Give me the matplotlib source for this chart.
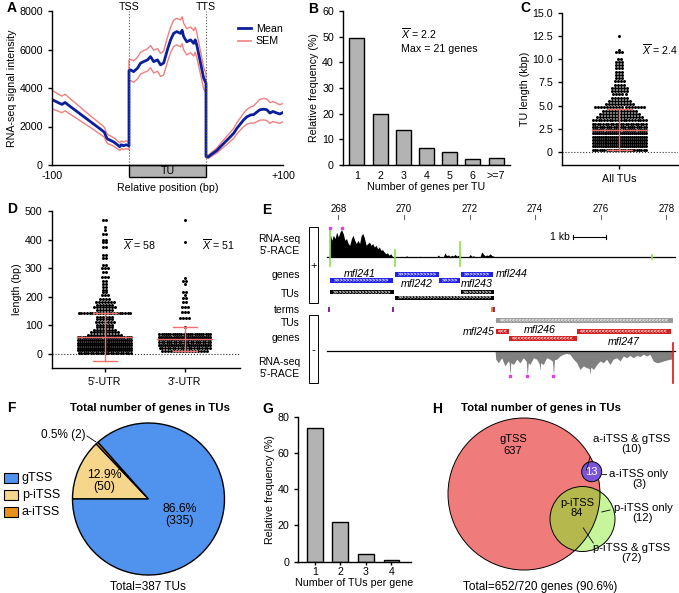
import numpy as np
import matplotlib
matplotlib.use('Agg')
import matplotlib.pyplot as plt
from matplotlib.patches import Rectangle, Circle
from matplotlib.lines import Line2D

# ---------------- data ----------------
# A: metagene profile (upstream -100 bp, TU scaled, downstream +100 bp)
x_up = [0, 5, 10, 13, 17, 20, 25, 30, 35, 40, 45, 50, 55, 60, 65, 68, 70, 72, 75, 80, 85, 88, 90, 93, 96, 100]
mean_up = [3400, 3300, 3200, 3150, 3250, 3150, 3000, 2850, 2700, 2550, 2400, 2250, 2100, 1950, 1800, 1700,
           1500, 1350, 1300, 1200, 1050, 950, 1050, 1000, 1050, 1000]
sem_up = [480, 460, 440, 430, 430, 420, 400, 380, 360, 340, 320, 300, 290, 280, 270, 260, 250, 240, 230,
          220, 210, 200, 200, 200, 200, 200]
x_tu = [100, 102, 106, 111, 115, 119, 124, 128, 132, 137, 141, 145, 150, 154, 158, 162, 167, 169, 171, 175,
        180, 184, 186, 188, 193, 197, 200]
mean_tu = [4900, 4940, 4850, 5030, 5290, 5370, 5460, 5630, 5370, 5460, 5200, 5300, 6000, 6500, 6840, 6930,
           6840, 7000, 6670, 6400, 6500, 6320, 6500, 6240, 5290, 4510, 4250]
sem_tu = [550, 550, 560, 560, 570, 570, 580, 580, 590, 590, 600, 620, 640, 660, 680, 690, 700, 700, 690,
          680, 670, 660, 650, 640, 600, 560, 500]
x_dn = [200, 203, 207, 214, 220, 225, 230, 236, 240, 245, 249, 253, 258, 262, 266, 270, 275, 279, 283, 287,
        292, 296, 300]
mean_dn = [450, 420, 550, 750, 1000, 1200, 1400, 1650, 1900, 2150, 2350, 2500, 2600, 2620, 2750, 2870, 2900,
           2870, 2700, 2780, 2700, 2650, 2730]
sem_dn = [80, 80, 100, 130, 170, 200, 230, 260, 290, 320, 350, 380, 420, 450, 500, 540, 560, 560, 540, 520,
          500, 480, 470]

# B: genes per TU
b_cats = ['1', '2', '3', '4', '5', '6', '>=7']
b_vals = [49.6, 19.8, 13.7, 6.6, 4.9, 2.4, 2.6]

# C: TU length swarm (kbp row -> number of TUs)
c_levels = [0.25, 0.6, 0.95, 1.3, 1.65, 2.0, 2.35, 2.7, 3.05, 3.4, 3.75, 4.1, 4.45, 4.8, 5.15, 5.5, 5.85,
            6.2, 6.55, 6.9, 7.25, 7.6, 7.95, 8.3, 8.65, 9.0, 9.35, 9.7, 10.05, 10.75, 11.0, 12.5]
c_counts = [24, 28, 28, 28, 28, 28, 26, 24, 22, 20, 16, 14, 12, 17, 10, 8, 6, 5, 6, 6, 4, 4, 3, 3, 3, 3,
            3, 3, 2, 3, 1, 1]
c_mean, c_sd_lo, c_sd_hi = 2.4, 0.2, 4.6

# D: UTR lengths (bp row -> count)
d5_levels = [3, 12, 21, 30, 39, 48, 57, 66, 75, 84, 93, 102, 111, 120, 129, 142, 152, 162, 172, 182, 192,
             205, 215, 225, 235, 245, 255, 270, 285, 300, 310, 335, 345, 375, 390, 400, 420, 435, 445, 470]
d5_counts = [22, 28, 28, 28, 28, 28, 26, 12, 10, 8, 6, 6, 7, 6, 6, 20, 6, 8, 6, 7, 4, 3, 2, 2, 2, 2, 2,
             3, 2, 3, 2, 2, 2, 2, 2, 2, 2, 1, 1, 2]
d3_levels = [10, 20, 30, 40, 50, 60, 70, 95, 125, 145, 165, 180, 195, 205, 215, 245, 255, 265, 390, 470]
d3_counts = [16, 20, 28, 22, 28, 26, 24, 1, 4, 3, 3, 2, 2, 1, 2, 1, 2, 1, 1, 1]
d_means = [58, 51]
d_sd = [(-25, 142), (8, 93)]

# E: browser view, coordinates in kb, coverage in % of track height
plus_kb = [267.74, 267.75, 267.8, 267.85, 267.9, 267.95, 268.0, 268.05, 268.1, 268.15, 268.2, 268.25,
           268.3, 268.35, 268.4, 268.45, 268.5, 268.55, 268.6, 268.65, 268.7, 268.75, 268.8, 268.85, 268.9,
           268.95, 269.0, 269.05, 269.1, 269.15, 269.2, 269.25, 269.3, 269.35, 269.4, 269.45, 269.5,
           269.55, 269.6, 269.65, 269.7, 270.05, 270.08, 270.12, 270.45, 270.49, 270.53, 271.0, 271.05,
           271.1, 271.2, 271.25, 271.3, 271.36, 271.41, 271.46, 271.51, 271.56, 271.61, 271.66, 271.72,
           271.97, 272.02, 272.07, 272.12, 272.2, 272.32, 272.37, 272.42, 272.47, 272.52, 272.57, 272.63,
           272.68, 272.73, 272.8]
plus_cov = [0, 80, 57, 74, 63, 85, 68, 85, 93, 80, 57, 63, 46, 40, 63, 74, 57, 46, 57, 46, 74, 80, 63, 40,
            46, 51, 40, 46, 34, 40, 28, 34, 23, 25, 17, 11, 14, 6, 11, 2, 0, 0, 5, 0, 0, 3, 0, 0, 7, 0, 0,
            14, 5, 7, 2, 6, 3, 9, 3, 6, 0, 0, 9, 2, 4, 0, 0, 17, 11, 4, 7, 5, 11, 5, 3, 0]
minus_kb = [272.78, 272.8, 272.88, 272.98, 273.08, 273.18, 273.21, 273.23, 273.26, 273.34, 273.44, 273.54,
            273.64, 273.73, 273.76, 273.79, 273.84, 273.95, 274.05, 274.13, 274.15, 274.17, 274.25, 274.35,
            274.45, 274.53, 274.56, 274.59, 274.66, 274.76, 274.86, 274.96, 275.06, 275.17, 275.27, 275.37,
            275.47, 275.57, 275.65, 275.67, 275.70, 275.78, 275.88, 275.98, 276.08, 276.18, 276.28, 276.38,
            276.49, 276.59, 276.69, 276.79, 276.89, 276.99, 277.10, 277.20, 277.30, 277.40, 277.50, 277.60,
            277.71, 277.81, 277.91, 278.01, 278.11, 278.16, 278.17]
minus_cov = [0, 28, 40, 23, 51, 34, 40, 83, 40, 46, 28, 40, 23, 35, 83, 40, 46, 23, 28, 45, 68, 40, 46, 23,
             28, 35, 83, 30, 28, 17, 11, 8, 11, 28, 40, 63, 51, 57, 60, 80, 55, 63, 46, 34, 40, 28, 46, 28,
             23, 34, 17, 23, 15, 23, 15, 19, 11, 17, 11, 34, 40, 38, 34, 31, 28, 28, 0]
race_plus = [267.75, 269.73, 271.71, 277.55]
plus_genes = [('mfl241', 267.75, 269.66, 1), ('mfl242', 269.73, 271.08, 0),
              ('mfl243', 271.08, 271.71, 1), ('mfl244', 271.74, 272.73, 0)]
plus_tus = [(267.75, 269.70, 0), (271.74, 272.76, 0), (269.73, 272.76, 1)]
terms = [267.72, 269.68, 272.76]
minus_tus = [(272.80, 278.19)]
minus_genes = [('mfl245', 272.80, 273.21, 0), ('mfl246', 273.21, 275.27, 1), ('mfl247', 275.27, 278.13, 0)]

# F: pie
f_labels = ['gTSS', 'p-iTSS', 'a-iTSS']
f_counts = [335, 50, 2]

# G: TUs per gene
g_cats = ['1', '2', '3', '4']
g_vals = [73.6, 22.1, 4.0, 0.7]

# H: venn counts
h_gtss, h_pitss, h_aitss = 637, 84, 13
h_a_and_g, h_a_only, h_p_only, h_p_and_g = 10, 3, 12, 72

# ---------------- style ----------------
plt.rcParams['font.family'] = ['Liberation Sans', 'DejaVu Sans']
plt.rcParams['mathtext.fontset'] = 'custom'
plt.rcParams['mathtext.rm'] = 'Liberation Sans'
plt.rcParams['mathtext.it'] = 'Liberation Sans:italic'
plt.rcParams['font.size'] = 7.7
plt.rcParams['axes.linewidth'] = 1.0
plt.rcParams['xtick.major.width'] = 1.0
plt.rcParams['ytick.major.width'] = 1.0
plt.rcParams['xtick.major.size'] = 3
plt.rcParams['ytick.major.size'] = 3
plt.rcParams['xtick.labelsize'] = 7.7
plt.rcParams['ytick.labelsize'] = 7.7
plt.rcParams['axes.labelsize'] = 7.7

W, H = 679, 593
fig = plt.figure(figsize=(W / 100, H / 100), dpi=100)


def add_ax(l, t, r, b):
    # axes from pixel box (top-left origin)
    return fig.add_axes([l / W, 1 - b / H, (r - l) / W, (b - t) / H])


def ftext(x, y, s, **kw):
    fig.text(x / W, 1 - y / H, s, **kw)


def clean(ax):
    ax.spines['top'].set_visible(False)
    ax.spines['right'].set_visible(False)


def swarm(ax, center, levels, counts, dx, wmax):
    # rows of dots, squeezed when a row gets wider than wmax
    xs, ys = [], []
    for lev, n in zip(levels, counts):
        step = min(dx, wmax / n)
        off = (np.arange(n) - (n - 1) / 2) * step
        xs.extend(center + off)
        ys.extend([lev] * n)
    ax.scatter(xs, ys, s=4.6, color='black', linewidths=0, zorder=2)


red_bar = '#f07070'

# ---------------- A ----------------
ax = add_ax(52, 11, 283, 165)
xa = np.array(x_up + x_tu + x_dn, dtype=float)
ma = np.array(mean_up + mean_tu + mean_dn, dtype=float)
sa = np.array(sem_up + sem_tu + sem_dn, dtype=float)
ax.plot(xa, ma + sa, color='#f08080', lw=1)
ax.plot(xa, ma - sa, color='#f08080', lw=1)
ax.plot(xa, ma, color='#0b1f9a', lw=2)
for xv in (100, 200):
    ax.axvline(xv, color='#555555', ls=':', lw=0.8)
ax.set_xlim(0, 300)
ax.set_ylim(0, 8000)
ax.set_yticks([0, 2000, 4000, 6000, 8000])
ax.set_xticks([0, 300])
ax.set_xticklabels(['-100', '+100'])
ax.tick_params(axis='x', length=0, pad=4)
ax.set_ylabel('RNA-seq signal intensity', labelpad=2)
ax.set_xlabel('Relative position (bp)', labelpad=2)
clean(ax)
ax.add_patch(Rectangle((100, -0.08), 100, 0.08, transform=ax.get_xaxis_transform(), facecolor='#b3b3b3',
                       edgecolor='black', lw=1, clip_on=False))
ax.text(150, -0.04, 'TU', transform=ax.get_xaxis_transform(), ha='center', va='center')
ax.text(100, 1.025, 'TSS', transform=ax.get_xaxis_transform(), ha='center', va='center')
ax.text(200, 1.025, 'TTS', transform=ax.get_xaxis_transform(), ha='center', va='center')
handles = [Line2D([], [], color='#0b1f9a', lw=2), Line2D([], [], color='#f08080', lw=1.2)]
ax.legend(handles, ['Mean', 'SEM'], loc='upper right', bbox_to_anchor=(1.04, 0.98), frameon=False,
          handlelength=1.3, handletextpad=0.4, labelspacing=0.25, fontsize=7.7)

# ---------------- B ----------------
ax = add_ax(343, 11, 510, 165)
ax.bar(np.arange(1, 8), b_vals, width=0.65, color='#b3b3b3', edgecolor='black', lw=1)
ax.set_xlim(0.4, 7.6)
ax.set_ylim(0, 60)
ax.set_yticks(range(0, 61, 10))
ax.set_xticks(np.arange(1, 8))
ax.set_xticklabels(b_cats)
ax.tick_params(axis='x', length=0, pad=4)
ax.set_ylabel('Relative frequency (%)', labelpad=2)
ax.set_xlabel('Number of genes per TU', labelpad=1)
clean(ax)
ftext(401, 34, r'$\overline{X}$ = 2.2', va='center')
ftext(401, 49, 'Max = 21 genes', va='center')

# ---------------- C ----------------
ax = add_ax(562, 12.7, 678, 165)
ax.axhline(0, color='#333333', ls=':', lw=0.8, zorder=1)
swarm(ax, 0, c_levels, c_counts, 0.052, 0.95)
ax.plot([-0.47, 0.47], [c_mean, c_mean], color=red_bar, lw=1, zorder=3)
ax.plot([0, 0], [c_sd_lo, c_sd_hi], color=red_bar, lw=1, zorder=3)
for yv in (c_sd_lo, c_sd_hi):
    ax.plot([-0.22, 0.22], [yv, yv], color=red_bar, lw=1, zorder=3)
ax.set_xlim(-0.98, 1.0)
ax.set_ylim(-1.4, 15)
ax.set_yticks([0, 2.5, 5, 7.5, 10, 12.5, 15])
ax.set_yticklabels(['0', '2.5', '5.0', '7.5', '10.0', '12.5', '15.0'])
ax.set_xticks([0])
ax.set_xticklabels(['All TUs'])
ax.set_ylabel('TU length (kbp)', labelpad=2)
clean(ax)
ftext(660, 50, r'$\overline{X}$ = 2.4', va='center', ha='center')

# ---------------- D ----------------
ax = add_ax(51.7, 211, 240, 368)
ax.axhline(0, color='#333333', ls=':', lw=0.8, zorder=1)
swarm(ax, 0, d5_levels, d5_counts, 0.0375, 0.68)
swarm(ax, 1, d3_levels, d3_counts, 0.0375, 0.66)
for i in range(2):
    ax.plot([i - 0.34, i + 0.34], [d_means[i]] * 2, color=red_bar, lw=1, zorder=3)
    ax.plot([i, i], d_sd[i], color=red_bar, lw=1, zorder=3)
    for yv in d_sd[i]:
        ax.plot([i - 0.15, i + 0.15], [yv, yv], color=red_bar, lw=1, zorder=3)
ax.set_xlim(-0.66, 1.69)
ax.set_ylim(-50, 500)
ax.set_yticks(range(0, 501, 100))
ax.set_xticks([0, 1])
ax.set_xticklabels(["5'-UTR", "3'-UTR"])
ax.set_ylabel('length (bp)', labelpad=2)
clean(ax)
ftext(123, 245, r'$\overline{X}$ = 58', va='center')
ftext(202, 245, r'$\overline{X}$ = 51', va='center')

# ---------------- E ----------------
ax = add_ax(250, 195, 679, 393)
k0, k1 = 265.308, 278.387
ax.set_xlim(k0, k1)
ax.set_ylim(393, 195)
ax.axis('off')


def kb(px):
    return 268 + (px - 338.3) / 32.8


for t in range(268, 279, 2):
    ax.plot([t, t], [215, 219], color='#666666', lw=0.8)
    ax.text(t, 209, str(t), ha='center', va='center', fontsize=7)

lab_x = kb(300)
for y, s in [(245, "RNA-seq\n5'-RACE"), (275, 'genes'), (294, 'TUs'), (310, 'terms'),
             (323, 'TUs'), (338, 'genes'), (368, "RNA-seq\n5'-RACE")]:
    ax.text(lab_x, y, s, ha='right', va='center', fontsize=7.5, linespacing=1.35)
ax.add_patch(Rectangle((kb(309), 227), kb(318) - kb(309), 76, fill=False, ec='black', lw=0.7))
ax.add_patch(Rectangle((kb(309), 315), kb(318) - kb(309), 68, fill=False, ec='black', lw=0.7))
ax.text(kb(313.5), 266, '+', ha='center', va='center', fontsize=8)
ax.text(kb(313.5), 350, '-', ha='center', va='center', fontsize=8)

base_p, base_m, hscale = 257.0, 351.0, 0.293
pk = np.array(plus_kb)
ax.fill_between(pk, base_p, base_p - np.array(plus_cov) * hscale, color='black', lw=0)
mk = np.array(minus_kb)
ax.fill_between(mk, base_m, base_m + np.array(minus_cov) * hscale, color='#808080', lw=0)
ax.plot([kb(326.7), 278.26], [base_p, base_p], color='black', lw=0.9)
ax.plot([kb(326.7), 278.26], [base_m, base_m], color='black', lw=0.9)
green = '#8be04a'
for xr, y0, y1 in [(race_plus[0], 230, 266), (race_plus[1], 250, 266), (race_plus[2], 242, 266),
                   (race_plus[3], 255, 259)]:
    ax.plot([xr, xr], [y0, y1], color=green, lw=1.2)
for xm in (267.75, 268.10):
    ax.plot(xm, 228.5, 's', color='#e040e0', ms=1.5)
for xm in (273.23, 273.76, 274.56):
    ax.plot(xm, base_m + 84 * hscale, 's', color='#e040e0', ms=1.5)
ax.plot([278.19, 278.19], [343.3, 383.3], color='#e01010', lw=1.2)


def feature(x0, x1, y0, y1, fc, arrow):
    ax.add_patch(Rectangle((x0, y0), x1 - x0, y1 - y0, facecolor=fc, edgecolor='none'))
    n = max(int((x1 - x0) * 32.8 / 3.3) - 1, 1)
    ax.text((x0 + x1) / 2, (y0 + y1) / 2 + 0.3, arrow * n, color='white', fontsize=4, ha='center',
            va='center', fontweight='bold', clip_on=True)


gene_rows = [(272.3, 276.9), (278.3, 283.3)]
for name, x0, x1, row in plus_genes:
    y0, y1 = gene_rows[row]
    feature(x0, x1, y0, y1, '#2020e6', '>')
tu_rows = [(290.0, 294.5), (295.7, 300.3)]
for x0, x1, row in plus_tus:
    y0, y1 = tu_rows[row]
    feature(x0, x1, y0, y1, 'black', '>')
for xt in terms:
    ax.add_patch(Rectangle((xt - 0.03, 306.7), 0.06, 5.6, color='#8a2a9a', lw=0))
ax.add_patch(Rectangle((terms[2] - 0.09, 306.7), 0.06, 5.6, color='#f08020', lw=0))
for x0, x1 in minus_tus:
    feature(x0, x1, 318.3, 323.3, '#9a9a9a', '<')
mgene_rows = [(329.3, 334.0), (335.7, 340.7)]
for name, x0, x1, row in minus_genes:
    y0, y1 = mgene_rows[row]
    feature(x0, x1, y0, y1, '#d42020', '<')

gstyle = dict(fontsize=7.7, style='italic', va='center')
ax.text(268.66, 274, 'mfl241', ha='center', **gstyle)
ax.text(270.39, 284.5, 'mfl242', ha='center', **gstyle)
ax.text(272.22, 284.5, 'mfl243', ha='center', **gstyle)
ax.text(272.80, 274.5, 'mfl244', ha='left', **gstyle)
ax.text(272.76, 331.7, 'mfl245', ha='right', **gstyle)
ax.text(274.15, 330.5, 'mfl246', ha='center', **gstyle)
ax.text(276.69, 341.7, 'mfl247', ha='center', **gstyle)

# scale bar
sb0, sb1 = kb(573), kb(573) + 1.0
ax.plot([sb0, sb1], [237, 237], color='black', lw=0.8)
ax.plot([sb0, sb0], [235, 239], color='black', lw=0.8)
ax.plot([sb1, sb1], [235, 239], color='black', lw=0.8)
ax.text(kb(570), 237, '1 kb', ha='right', va='center', fontsize=7.5)

# ---------------- F ----------------
ax = add_ax(0, 395, 245, 593)
cols = {'gTSS': '#4f93ef', 'p-iTSS': '#f5d68a', 'a-iTSS': '#e8921e'}
ax.pie([f_counts[1], f_counts[2], f_counts[0]], colors=[cols['p-iTSS'], cols['a-iTSS'], cols['gTSS']],
       startangle=180, counterclock=False, center=(148.5, 94), radius=76,
       wedgeprops=dict(edgecolor='black', linewidth=1))
ax.set_xlim(0, 245)
ax.set_ylim(0, 198)
ax.set_aspect('equal')
ax.axis('off')
tot = sum(f_counts)
ax.text(180, 78, '%.1f%%\n(%d)' % (100 * f_counts[0] / tot, f_counts[0]), ha='center', va='center',
        fontsize=8.8, linespacing=1.05)
ax.text(104, 112, '%.1f%%\n(%d)' % (100 * f_counts[1] / tot, f_counts[1]), ha='center', va='center',
        fontsize=8.8, linespacing=1.05)
ax.text(86, 158, '%.1f%% (%d)' % (100 * f_counts[2] / tot, f_counts[2]), ha='right', va='center', fontsize=8.5)
ax.plot([87, 96], [157, 151], color='black', lw=0.6)
ax.text(150, 185, 'Total number of genes in TUs', ha='center', va='center', fontsize=8.2, fontweight='bold')
ax.text(148, 6, 'Total=%d TUs' % tot, ha='center', va='center', fontsize=8.5)
for i, lab in enumerate(f_labels):
    yc = 115 - i * 17
    ax.add_patch(Rectangle((3.5, yc - 5), 14.5, 10, facecolor=cols[lab], edgecolor='black', lw=0.8))
    ax.text(22, yc, lab, ha='left', va='center', fontsize=9)

# ---------------- G ----------------
ax = add_ax(298.3, 416.7, 410.7, 561.7)
ax.bar(np.arange(1, 5), g_vals, width=0.62, color='#b3b3b3', edgecolor='black', lw=1)
ax.set_xlim(0.36, 4.75)
ax.set_ylim(0, 80)
ax.set_yticks(range(0, 81, 20))
ax.set_xticks(np.arange(1, 5))
ax.set_xticklabels(g_cats)
ax.tick_params(axis='x', length=2.5, pad=1.5)
ax.set_ylabel('Relative frequency (%)', labelpad=2)
ax.set_xlabel('Number of TUs per gene', labelpad=0.5)
clean(ax)

# ---------------- H ----------------
ax = add_ax(430, 395, 679, 593)
ax.set_xlim(430, 679)
ax.set_ylim(593, 395)
ax.axis('off')
big = Circle((524, 494), 76, facecolor='#f07b7b', edgecolor='none')
ax.add_patch(big)
ax.add_patch(Circle((582.5, 519), 32.5, facecolor='#c6f59c', edgecolor='none'))
inter = Circle((582.5, 519), 32.5, facecolor='#b5b84c', edgecolor='none')
ax.add_patch(inter)
inter.set_clip_path(big)
ax.add_patch(Circle((524, 494), 76, fill=False, edgecolor='black', lw=0.7))
ax.add_patch(Circle((582.5, 519), 32.5, fill=False, edgecolor='black', lw=0.7))
ax.add_patch(Circle((591.7, 471.7), 10, facecolor='#7b55d9', edgecolor='black', lw=0.7))
ax.text(591.7, 472, str(h_aitss), color='white', ha='center', va='center', fontsize=8)
ax.text(513, 445, 'gTSS\n%d' % h_gtss, ha='center', va='center', fontsize=8, linespacing=1.2)
ax.text(577, 508, 'p-iTSS\n%d' % h_pitss, ha='center', va='center', fontsize=8, linespacing=1.1)
vk = dict(ha='center', va='center', fontsize=8.2, linespacing=1.1)
ax.text(632, 444, 'a-iTSS & gTSS\n(%d)' % h_a_and_g, **vk)
ax.text(639, 479, 'a-iTSS only\n(%d)' % h_a_only, **vk)
ax.text(643, 513, 'p-iTSS only\n(%d)' % h_p_only, **vk)
ax.text(632, 553, 'p-iTSS & gTSS\n(%d)' % h_p_and_g, **vk)
ax.plot([590, 586.5], [457, 470], color='black', lw=0.6)
ax.plot([601.7, 606], [474, 474], color='black', lw=0.6)
ax.plot([601.7, 610], [512, 510], color='black', lw=0.6)
ax.plot([583.3, 593.3], [528, 543], color='black', lw=0.6)
ax.text(541, 408, 'Total number of genes in TUs', ha='center', va='center', fontsize=8.2, fontweight='bold')
ax.text(540, 587, 'Total=652/720 genes (90.6%)', ha='center', va='center', fontsize=8.5)

# panel letters
for lab, x, y in [('A', 7, 8), ('B', 308, 9), ('C', 520, 8), ('D', 7, 209), ('E', 262, 210),
                  ('F', 7, 408), ('G', 262, 409), ('H', 432, 409)]:
    ftext(x, y, lab, fontsize=10, fontweight='bold', ha='left', va='center')

fig.savefig('out.png', dpi=100)
